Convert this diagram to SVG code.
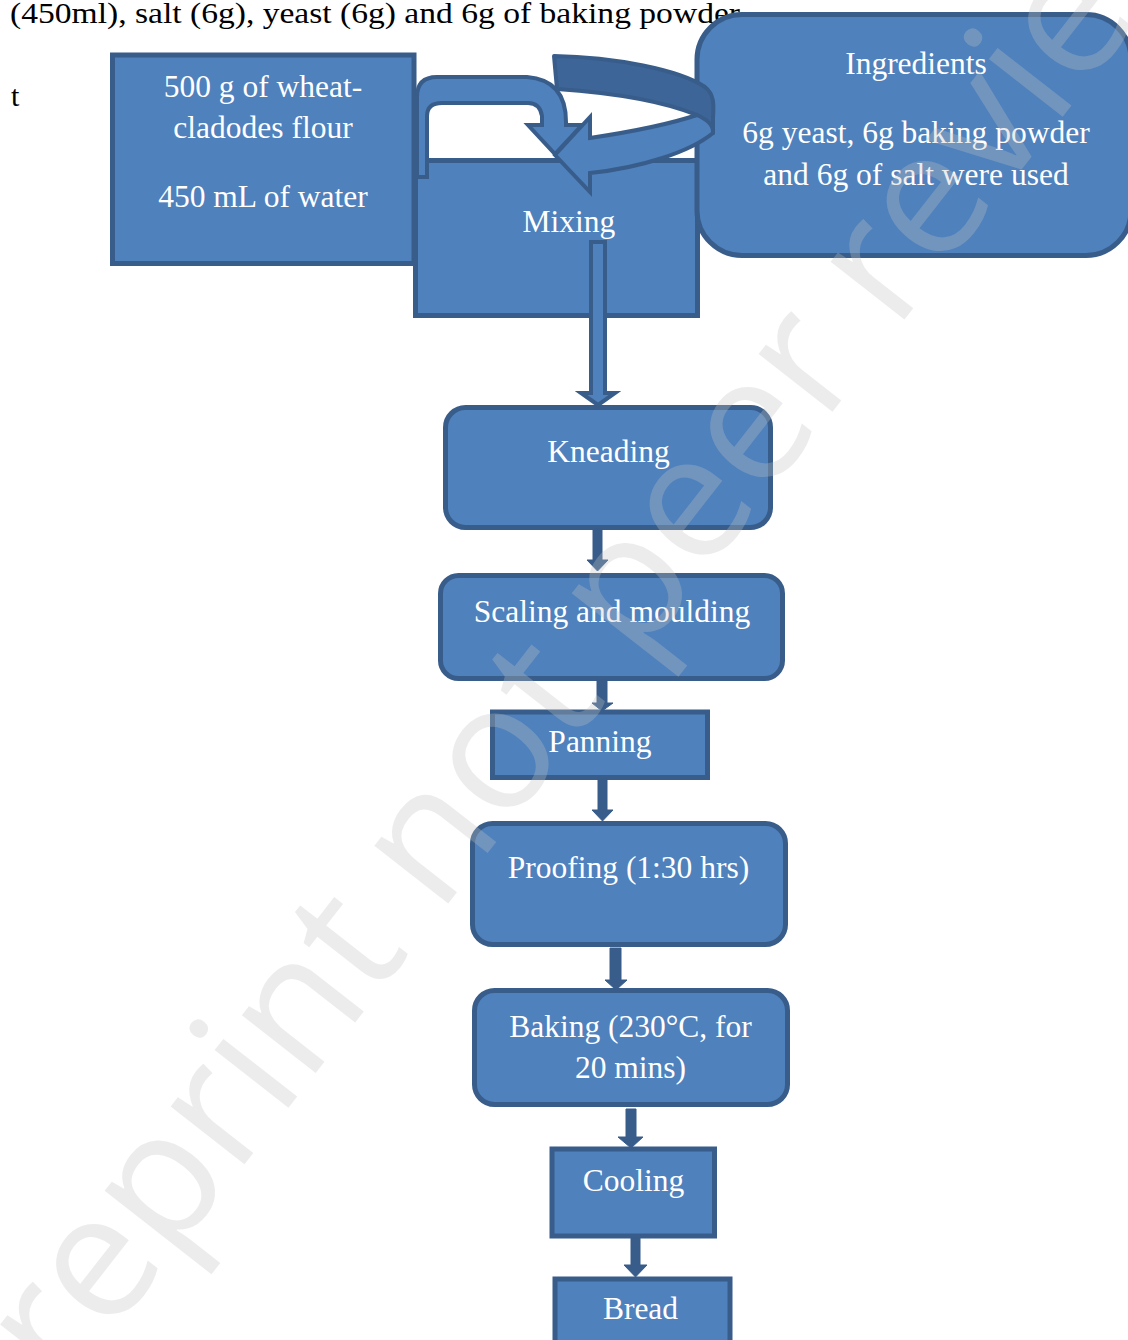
<svg xmlns="http://www.w3.org/2000/svg" width="1128" height="1340" viewBox="0 0 1128 1340">
<style>
.box{fill:#4F81BD;stroke:#385D8A;stroke-width:5}
.lbl{font-family:"Liberation Serif","Times New Roman",serif;font-size:31.5px;fill:#FFFFFF;text-anchor:middle}
.body{font-family:"Liberation Serif","Times New Roman",serif;font-size:30px;fill:#000000}
.arr{fill:#385D8A;stroke:#385D8A;stroke-width:1;stroke-linejoin:miter}
.blk{fill:#4F81BD;stroke:#385D8A;stroke-width:4;stroke-linejoin:miter}
.back{fill:#3D6597;stroke:#385D8A;stroke-width:4;stroke-linejoin:round}
.wm{font-family:"Open Sans","Liberation Sans",sans-serif;font-size:175px;fill:#C2C2C2;fill-opacity:0.31}
</style>
<rect x="0" y="0" width="1128" height="1340" fill="#FFFFFF"/>
<text class="body" x="10" y="23" textLength="730" lengthAdjust="spacingAndGlyphs">(450ml), salt (6g), yeast (6g) and 6g of baking powder</text>
<text class="body" x="11" y="106">t</text>

<g id="flour">
<rect class="box" x="112.5" y="55" width="301.5" height="208.5"/>
<text class="lbl" x="263" y="97">500 g of wheat-</text>
<text class="lbl" x="263" y="138">cladodes flour</text>
<text class="lbl" x="263" y="207">450 mL of water</text>
</g>
<g id="mixing">
<rect class="box" x="415.5" y="160.5" width="282" height="155"/>
<text class="lbl" x="569" y="232">Mixing</text>
</g>
<g id="ingredients">
<rect class="box" x="697" y="14.5" width="434" height="241" rx="45" ry="45"/>
<text class="lbl" x="916" y="74">Ingredients</text>
<text class="lbl" x="916" y="143">6g yeast, 6g baking powder</text>
<text class="lbl" x="916" y="185">and 6g of salt were used</text>
</g>
<g id="kneading">
<rect class="box" x="445.5" y="407.5" width="325" height="120" rx="20" ry="20"/>
<text class="lbl" x="608.5" y="462">Kneading</text>
</g>
<g id="scaling">
<rect class="box" x="440.5" y="575.5" width="342" height="103" rx="18" ry="18"/>
<text class="lbl" x="612" y="622">Scaling and moulding</text>
</g>
<g id="panning">
<rect class="box" x="492.5" y="712" width="215" height="65.5"/>
<text class="lbl" x="600" y="752">Panning</text>
</g>
<g id="proofing">
<rect class="box" x="472.5" y="823.5" width="313" height="121" rx="20" ry="20"/>
<text class="lbl" x="628.5" y="878">Proofing (1:30 hrs)</text>
</g>
<g id="baking">
<rect class="box" x="474.5" y="990.5" width="313" height="114" rx="20" ry="20"/>
<text class="lbl" x="630.5" y="1037">Baking (230°C, for</text>
<text class="lbl" x="630.5" y="1078">20 mins)</text>
</g>
<g id="cooling">
<rect class="box" x="552" y="1149" width="162.5" height="87"/>
<text class="lbl" x="633.5" y="1191">Cooling</text>
</g>
<g id="bread">
<rect class="box" x="555" y="1279" width="175" height="90"/>
<text class="lbl" x="640.5" y="1319">Bread</text>
</g>

<g id="connectors">
<path class="blk" d="M417,177 L417,97 Q417,77 437,77 L527,77 Q566,80 566,122 L566,125 L582,125 L555,154 L528,125 L542,125 L542,116 Q540,103 528,103 L442,103 Q427,103 427,116 L427,177 Z"/>
<path class="back" d="M554,56 C615,57 680,70 705,87 C714,94 714,104 713,118 L713,133 L697,115 C670,104 630,94 557,89 Z"/>
<path class="blk" d="M697,115 C670,124 630,132 590,138 L590,117 L555,155 L590,192 L590,173 C640,168 690,152 713,133 C714,125 706,119 697,115 Z"/>
<path class="blk" d="M591,242 L605,242 L605,393 L615,393 L598,405 L581,393 L591,393 Z"/>
<polygon class="arr" points="593,529 602,529 602,560 608,560 597.5,571 587,560 593,560"/>
<polygon class="arr" points="597,680 607,680 607,703 613,703 602,711 592,703 597,703"/>
<polygon class="arr" points="598,779 607,779 607,810 613,810 602.5,821 592,810 598,810"/>
<polygon class="arr" points="610,948 621,948 621,980 627,980 616,990 605,980 610,980"/>
<polygon class="arr" points="626,1109 636,1109 636,1137 643,1137 631,1148 618,1137 626,1137"/>
<polygon class="arr" points="631,1238 640,1238 640,1265 647,1265 635.5,1277 624,1265 631,1265"/>
</g>

<text class="wm" transform="translate(0,1477) rotate(-52)">Preprint not peer reviewed</text>
</svg>
